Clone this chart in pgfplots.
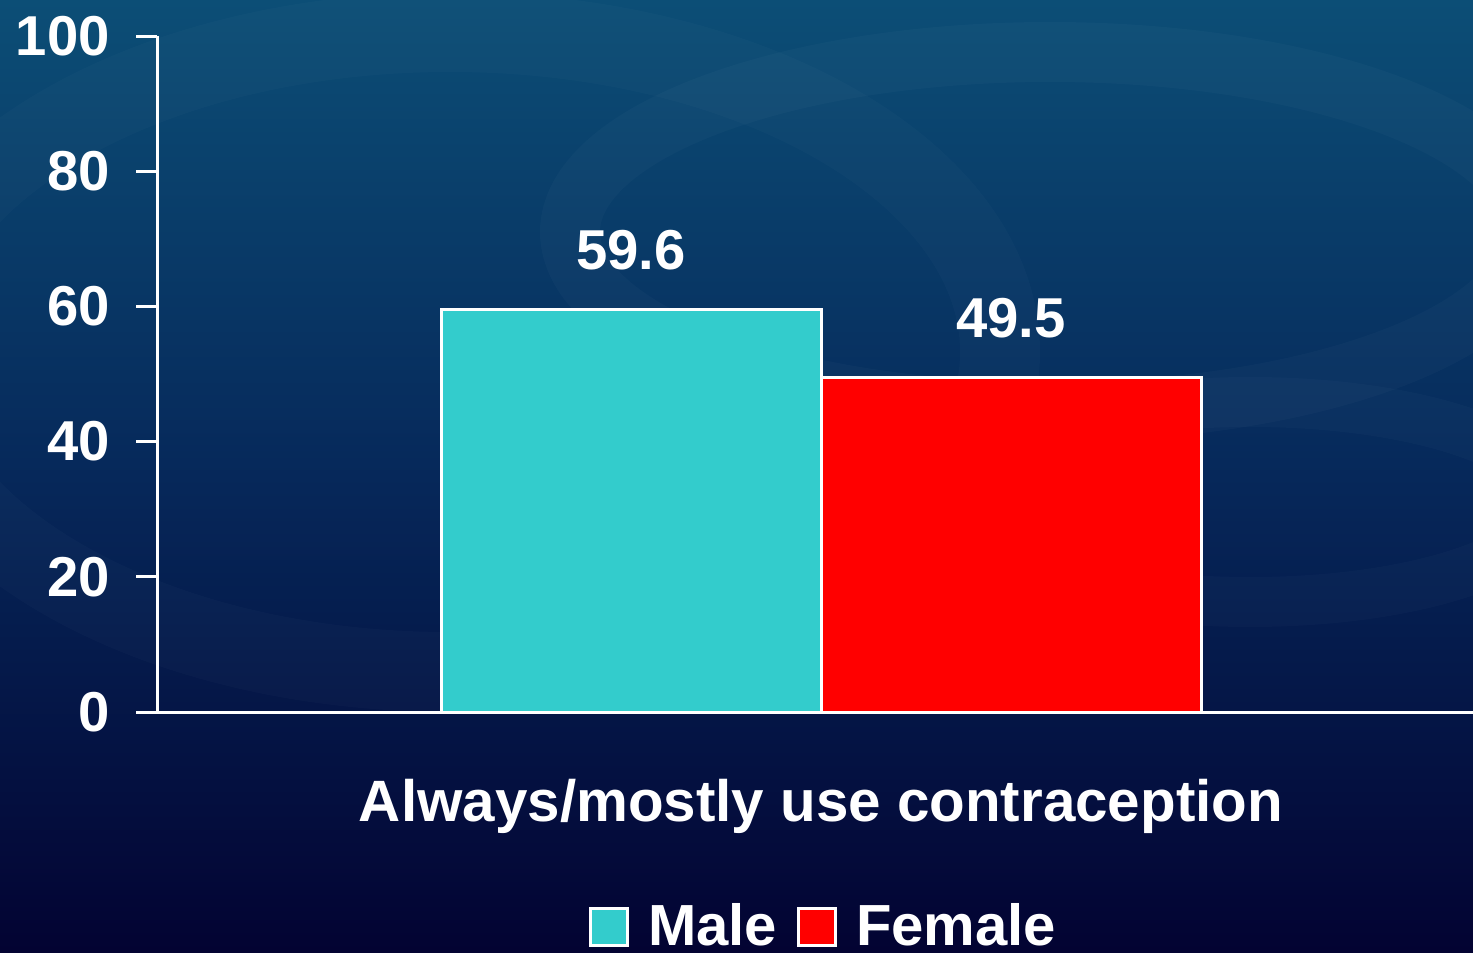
\documentclass[border=0pt]{standalone}
\usepackage{pgfplots}
\pgfplotsset{compat=1.18}
\usepackage{fontspec}
\setmainfont{Liberation Sans}
\definecolor{malec}{RGB}{51,204,204}
\definecolor{femc}{RGB}{255,0,0}
\definecolor{bgtop}{RGB}{12,78,118}
\definecolor{bgmid}{RGB}{6,40,90}
\definecolor{bgbot}{RGB}{3,3,50}
\begin{document}
\begin{tikzpicture}
\shade[top color=bgtop, bottom color=bgbot, middle color=bgmid] (0,0) rectangle (14.73,9.52);
\begin{scope}
\clip (0,0) rectangle (14.73,9.52);
\draw[white, opacity=0.025, line width=6mm] (10.5,7.2) ellipse (4.8 and 1.8);
\draw[white, opacity=0.02, line width=8mm] (4.5,6.0) ellipse (5.5 and 3.2);
\draw[white, opacity=0.02, line width=5mm] (12.5,4.5) ellipse (3.0 and 1.0);
\end{scope}
\begin{axis}[
  at={(1.57cm,2.40cm)}, anchor=south west,
  scale only axis, width=13.16cm, height=6.76cm,
  xmin=0, xmax=13.16, ymin=0, ymax=100,
  ybar=0pt, bar width=3.8cm,
  axis x line*=bottom, axis y line*=left,
  axis line style={white, line width=0.3mm, -},
  ytick={0,20,...,100},
  xtick={6.64}, xticklabels={Always/mostly use contraception},
  x tick style={draw=none},
  y tick style={white, line width=0.3mm},
  ytick align=outside, major tick length=2.1mm,
  tick label style={white, font=\fontsize{16}{19}\selectfont\bfseries},
  /pgf/number format/assume math mode=true,
  yticklabel style={xshift=-1.4mm},
  xticklabel style={yshift=-3.4mm, font=\fontsize{16.6}{19}\selectfont\bfseries},
  nodes near coords,
  every node near coord/.append style={white, font=\fontsize{16}{19}\selectfont\bfseries, yshift=2.6mm},
  legend image code/.code={\draw[#1, draw=white, line width=0.3mm] (0cm,-0.19cm) rectangle (0.37cm,0.18cm);},
  legend style={at={(0.5085,-0.318)}, anchor=center, draw=none, fill=none,
    text=white, font=\fontsize{16.5}{19}\selectfont\bfseries, legend columns=-1,
    /tikz/every odd column/.append style={column sep=1.2mm},
    /tikz/every even column/.append style={column sep=1.3mm}},
]
\addplot[fill=malec, draw=white, line width=0.3mm] coordinates {(6.64,59.6)};
\addplot[fill=femc, draw=white, line width=0.3mm] coordinates {(6.64,49.5)};
\legend{Male,Female}
\draw[white, line width=0.3mm] (axis cs:0,0) -- ++(0,-2.0mm);
\end{axis}
\pgfresetboundingbox
\useasboundingbox (0,0) rectangle (14.73,9.52);
\end{tikzpicture}
\end{document}
